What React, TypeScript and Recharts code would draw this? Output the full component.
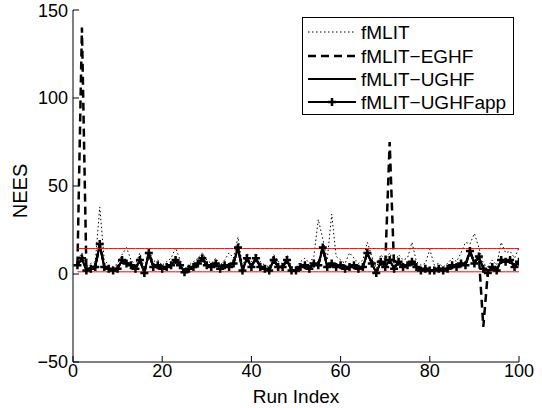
import { LineChart, Line, XAxis, YAxis, Legend } from 'recharts';

// run index 1..100
const runIndex = Array.from({ length: 100 }, (_, i) => i + 1);

const fmlit = [
  8, 12, 4, 6, 7, 38, 8, 5, 4, 6,
  11, 15, 8, 5, 12, 3, 14, 7, 8, 5,
  7, 9, 15, 8, 3, 5, 7, 9, 12, 8,
  6, 9, 5, 8, 12, 9, 21, 4, 12, 7,
  12, 7, 5, 4, 11, 7, 6, 11, 4, 4,
  7, 9, 6, 10, 31, 20, 8, 34, 10, 8,
  6, 12, 9, 6, 8, 18, 10, 3, 11, 8,
  12, 6, 11, 8, 9, 18, 7, 5, 6, 14,
  5, 6, 4, 6, 9, 7, 12, 18, 17, 23,
  15, 6, 4, 8, 5, 18, 12, 13, 9, 15,
];

const fmlitEghf = [
  5.4, 140, 2.3, 3.4, 4.4, 17.2, 4.3, 3.1, 2.2, 3.3,
  8.1, 6.3, 5.1, 3.2, 8.1, 0.6, 12.2, 4.1, 5.2, 3.1,
  4.3, 5.1, 8.2, 5.3, 1.1, 3.3, 4.1, 6.2, 9.1, 5.1,
  4.2, 6.1, 3.1, 5.3, 4.1, 6.3, 15.3, 2.1, 9.2, 4.3,
  9.1, 4.1, 3.2, 2.1, 8.2, 4.3, 4.1, 8.1, 2.2, 2.1,
  4.3, 5.2, 3.1, 6.2, 5.1, 15.4, 4.1, 6.2, 4.3, 5.2,
  3.1, 4.2, 5.2, 3.1, 4.3, 12.3, 6.2, 0.6, 7.2, 4.1,
  75, 3.2, 7.1, 4.1, 5.3, 7.2, 4.2, 2.1, 3.2, 2.2,
  2.1, 3.2, 2.2, 3.1, 5.2, 4.1, 6.2, 5.2, 13.2, 6.2,
  10.2, -30, 0.6, 4.2, 2.1, 8.2, 6.9, 8.1, 4.1, 7.2,
];

const fmlitUghf = [
  5.2, 8.6, 2.1, 3.3, 4.2, 16.5, 4.1, 3.2, 2.0, 3.1,
  7.8, 6.1, 5.2, 3.0, 7.7, 0.8, 11.6, 4.2, 5.0, 3.2,
  4.1, 5.2, 7.8, 5.1, 1.2, 3.1, 4.2, 6.0, 8.7, 5.2,
  4.0, 5.8, 3.2, 5.1, 4.2, 6.1, 14.6, 2.2, 8.8, 4.1,
  8.7, 4.2, 3.0, 2.2, 7.8, 4.1, 4.2, 7.7, 2.1, 2.2,
  4.1, 5.1, 3.2, 5.8, 5.2, 14.5, 4.2, 6.1, 4.1, 5.0,
  3.2, 4.1, 5.0, 3.2, 4.1, 11.7, 6.1, 0.8, 6.8, 4.2,
  7.8, 3.1, 6.8, 4.2, 5.1, 6.8, 4.1, 2.2, 3.0, 2.1,
  2.2, 3.1, 2.1, 3.2, 5.0, 4.2, 5.8, 5.1, 12.6, 6.1,
  9.7, 3.2, 0.8, 4.1, 2.2, 7.7, 7.1, 7.8, 4.2, 6.8,
];

const fmlitUghfApp = [
  5, 9, 2, 3, 4, 17, 4, 3, 2, 3,
  8, 6, 5, 3, 8, 0.5, 12, 4, 5, 3,
  4, 5, 8, 5, 1, 3, 4, 6, 9, 5,
  4, 6, 3, 5, 4, 6, 15, 2, 9, 4,
  9, 4, 3, 2, 8, 4, 4, 8, 2, 2,
  4, 5, 3, 6, 5, 15, 4, 6, 4, 5,
  3, 4, 5, 3, 4, 12, 6, 0.5, 7, 4,
  8, 3, 7, 4, 5, 7, 4, 2, 3, 2,
  2, 3, 2, 3, 5, 4, 6, 5, 13, 6,
  10, 3, 0.5, 4, 2, 8, 7, 8, 4, 7,
];

// chi-square 95% bounds
const upperBound = 14.45;
const lowerBound = 1.24;

const xTicks = [0, 20, 40, 60, 80, 100];
const yTicks = [-50, 0, 50, 100, 150];

const seriesNames = ['fMLIT', 'fMLIT\u2212EGHF', 'fMLIT\u2212UGHF', 'fMLIT\u2212UGHFapp'];

const data = runIndex.map((run, i) => ({
  run,
  fmlit: fmlit[i],
  eghf: fmlitEghf[i],
  ughf: fmlitUghf[i],
  ughfApp: fmlitUghfApp[i],
  ub: upperBound,
  lb: lowerBound,
}));

const FONT = '"Liberation Sans", Arial, Helvetica, sans-serif';

const plusPath = (x: number, y: number, r: number) =>
  `M${x - r},${y}H${x + r}M${x},${y - r}V${y + r}`;

const PlusDot = (props: any) => {
  const { cx, cy, index } = props;
  if (cx == null || cy == null) return <g key={`pd-${index}`} />;
  return (
    <path key={`pd-${index}`} d={plusPath(cx, cy, 4)} stroke="#000" strokeWidth={2.5} fill="none" />
  );
};

const LegendBox = () => {
  const rowY = [15, 39, 62, 85];
  const styles = [
    { dash: '1.5 2.5', width: 1 },
    { dash: '8 5', width: 2.5 },
    { dash: undefined, width: 2 },
    { dash: undefined, width: 2 },
  ];
  return (
    <svg width={212} height={98} style={{ display: 'block' }}>
      <rect x={0.5} y={0.5} width={211} height={97} fill="#fff" stroke="#000" strokeWidth={1} />
      {seriesNames.map((name, i) => (
        <g key={name}>
          <line
            x1={6}
            x2={54}
            y1={rowY[i]}
            y2={rowY[i]}
            stroke="#000"
            strokeWidth={styles[i].width}
            strokeDasharray={styles[i].dash}
          />
          {i === 3 && <path d={plusPath(30, rowY[i], 4)} stroke="#000" strokeWidth={2.5} />}
          <text x={59} y={rowY[i]} dominantBaseline="central" fontSize={19} fontFamily={FONT} fill="#000">
            {name}
          </text>
        </g>
      ))}
    </svg>
  );
};

const NeesLabel = () => (
  <text
    x={27}
    y={191}
    transform="rotate(-90 27 191)"
    textAnchor="middle"
    fontSize={20}
    fontFamily={FONT}
    fill="#000"
  >
    NEES
  </text>
);

const RunLabel = () => (
  <text x={296} y={403} textAnchor="middle" fontSize={19} fontFamily={FONT} fill="#000">
    Run Index
  </text>
);

const NoTick = () => <g />;

export default function App() {
  const tickStyle = { fontSize: 18, fontFamily: FONT, fill: '#000' };
  return (
    <div style={{ position: 'absolute', left: 0, top: 0, background: '#fff' }}>
      <LineChart
        width={542}
        height={408}
        data={data}
        margin={{ top: 10, right: 23, bottom: 0, left: 0 }}
      >
        <XAxis
          dataKey="run"
          type="number"
          domain={[0, 100]}
          ticks={xTicks}
          height={46}
          stroke="#000"
          tickSize={-6}
          tickMargin={8}
          tick={tickStyle}
          allowDataOverflow
          label={{ content: RunLabel }}
        />
        <XAxis
          xAxisId="top"
          dataKey="run"
          type="number"
          orientation="top"
          domain={[0, 100]}
          ticks={xTicks}
          height={0}
          stroke="#000"
          tickSize={-6}
          tick={NoTick}
        />
        <YAxis
          type="number"
          domain={[-50, 150]}
          ticks={yTicks}
          width={73}
          stroke="#000"
          tickSize={-6}
          tickMargin={11}
          tick={tickStyle}
          allowDataOverflow
          tickFormatter={(v: number) => (v < 0 ? `\u2212${Math.abs(v)}` : `${v}`)}
          label={{ content: NeesLabel }}
        />
        <YAxis
          yAxisId="right"
          type="number"
          orientation="right"
          domain={[-50, 150]}
          ticks={yTicks}
          width={0}
          stroke="#000"
          tickSize={-6}
          tick={NoTick}
        />
        <Line
          dataKey="fmlit"
          name={seriesNames[0]}
          stroke="#000"
          strokeWidth={1}
          strokeDasharray="1.5 2.5"
          dot={false}
          isAnimationActive={false}
        />
        <Line
          dataKey="eghf"
          name={seriesNames[1]}
          stroke="#000"
          strokeWidth={2.5}
          strokeDasharray="8 5"
          dot={false}
          isAnimationActive={false}
        />
        <Line
          dataKey="ughf"
          name={seriesNames[2]}
          stroke="#000"
          strokeWidth={2}
          dot={false}
          isAnimationActive={false}
        />
        <Line
          dataKey="ughfApp"
          name={seriesNames[3]}
          stroke="#000"
          strokeWidth={2}
          dot={PlusDot}
          isAnimationActive={false}
        />
        <Line dataKey="ub" stroke="#ff0000" strokeWidth={1} dot={false} isAnimationActive={false} legendType="none" />
        <Line dataKey="lb" stroke="#ff0000" strokeWidth={1} dot={false} isAnimationActive={false} legendType="none" />
        <Legend
          layout="vertical"
          align="center"
          verticalAlign="middle"
          content={LegendBox}
          wrapperStyle={{ position: 'absolute', left: 302, top: 17, width: 212, height: 98 }}
        />
      </LineChart>
    </div>
  );
}
